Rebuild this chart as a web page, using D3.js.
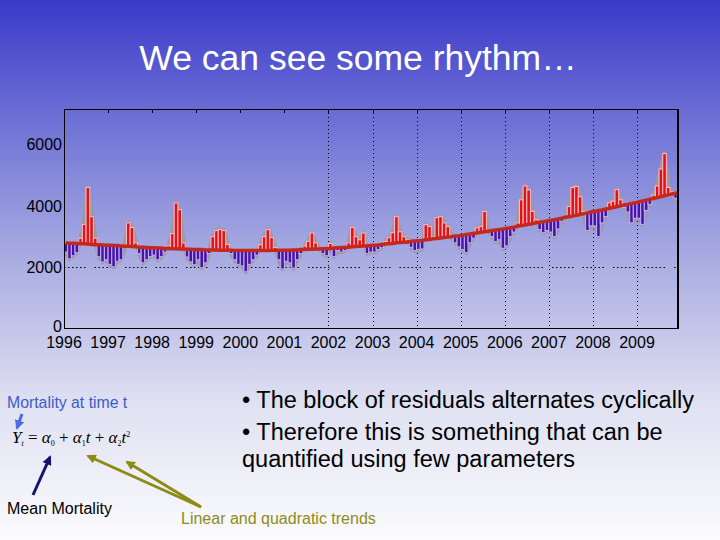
<!DOCTYPE html>
<html>
<head>
<meta charset="utf-8">
<style>
  body { margin: 0; }
  svg { display: block; font-family: Arial, "Liberation Sans", sans-serif; }
</style>
</head>
<body>
<div class="slide"></div>

<script src="https://d3js.org/d3.v7.min.js"></script>

<script>
// ---- data ----
const startYear = 1996;
const yearLabels = [1996, 1997, 1998, 1999, 2000, 2001, 2002, 2003, 2004, 2005, 2006, 2007, 2008, 2009];
const gridYears = [2002, 2003, 2004, 2005, 2006, 2007, 2008, 2009];
const yTicks = [0, 2000, 4000, 6000];

// monthly mortality, Jan..Dec per row
const mortality = [
  2500, 2280, 2380, 2480, 2950, 3400, 4600, 3650, 2950, 2350, 2180, 2250, // 1996
  2100, 2020, 2200, 2250, 2650, 3450, 3300, 2800, 2450, 2150, 2250, 2350, // 1997
  2400, 2250, 2350, 2500, 2700, 3100, 4100, 3880, 2800, 2340, 2180, 2090, // 1998
  2250, 1990, 2150, 2450, 3000, 3200, 3230, 3200, 2750, 2450, 2250, 2100, // 1999
  2050, 1860, 2100, 2250, 2400, 2740, 3000, 3230, 2970, 2650, 2250, 1950, // 2000
  2200, 2150, 1980, 2250, 2450, 2700, 2850, 3120, 2800, 2620, 2450, 2380, // 2001
  2780, 2350, 2550, 2500, 2550, 2800, 3300, 3000, 2900, 3120, 2450, 2500, // 2002
  2500, 2580, 2640, 2840, 2970, 3130, 3650, 3160, 3000, 2900, 2650, 2550, // 2003
  2580, 2600, 3390, 3330, 2980, 3620, 3650, 3450, 3330, 2970, 2800, 2670, // 2004
  2580, 2480, 2800, 2950, 3290, 3330, 3820, 3200, 3000, 2840, 2900, 2620, // 2005
  2700, 3000, 3150, 3450, 4200, 4650, 4520, 3820, 3550, 3230, 3130, 3200, // 2006
  3150, 3000, 3250, 3500, 3650, 3980, 4600, 4630, 4300, 3820, 3200, 3350, // 2007
  3350, 3000, 3450, 3650, 4100, 4150, 4530, 4200, 3950, 3800, 3450, 3600, // 2008
  3600, 3400, 3850, 4050, 4350, 4650, 5200, 5700, 4600, 4450, 4250, 4100  // 2009
];

// fitted (quadratic) trend as drawn, Jan..Dec per row
const trend = [
  2800, 2790, 2790, 2780, 2770, 2770, 2760, 2750, 2740, 2740, 2730, 2720, // 1996
  2720, 2710, 2710, 2700, 2690, 2690, 2680, 2670, 2660, 2660, 2650, 2640, // 1997
  2640, 2630, 2630, 2620, 2620, 2610, 2610, 2600, 2600, 2590, 2590, 2580, // 1998
  2580, 2580, 2570, 2570, 2570, 2570, 2560, 2560, 2560, 2560, 2550, 2550, // 1999
  2550, 2550, 2550, 2550, 2550, 2550, 2550, 2550, 2560, 2560, 2560, 2560, // 2000
  2560, 2560, 2570, 2570, 2580, 2580, 2590, 2590, 2600, 2600, 2610, 2610, // 2001
  2620, 2630, 2640, 2650, 2650, 2660, 2670, 2680, 2690, 2700, 2700, 2710, // 2002
  2720, 2730, 2750, 2760, 2770, 2780, 2800, 2810, 2820, 2830, 2850, 2860, // 2003
  2870, 2880, 2900, 2910, 2930, 2940, 2960, 2970, 2990, 3000, 3020, 3030, // 2004
  3050, 3070, 3090, 3110, 3120, 3140, 3160, 3180, 3200, 3220, 3230, 3250, // 2005
  3270, 3290, 3310, 3340, 3360, 3380, 3400, 3420, 3450, 3470, 3490, 3510, // 2006
  3530, 3550, 3580, 3600, 3630, 3650, 3670, 3700, 3720, 3750, 3770, 3800, // 2007
  3820, 3850, 3870, 3900, 3920, 3950, 3970, 4000, 4030, 4050, 4080, 4100, // 2008
  4130, 4160, 4190, 4220, 4240, 4270, 4300, 4330, 4360, 4390, 4410, 4440  // 2009
];

const bullets = [
  "\u2022 The block of residuals alternates cyclically",
  "\u2022 Therefore this is something that can be",
  "quantified using few parameters"
];

// ---- layout ----
const W = 720, H = 540;
const plot = { left: 64, right: 678, top: 109, bottom: 329 };

const svg = d3.select(".slide").append("svg")
    .attr("width", W).attr("height", H);

const defs = svg.append("defs");
const bg = defs.append("linearGradient").attr("id", "bg")
    .attr("x1", 0).attr("y1", 0).attr("x2", 0).attr("y2", 1);
bg.append("stop").attr("offset", "0%").attr("stop-color", "#3a3bca");
bg.append("stop").attr("offset", "45%").attr("stop-color", "#a3a6e0");
bg.append("stop").attr("offset", "75%").attr("stop-color", "#e0e1f2");
bg.append("stop").attr("offset", "100%").attr("stop-color", "#fbfbfd");

defs.append("clipPath").attr("id", "plotclip").append("rect")
    .attr("x", plot.left).attr("y", plot.top)
    .attr("width", plot.right - plot.left).attr("height", plot.bottom - plot.top);

function marker(id, color) {
  defs.append("marker").attr("id", id)
      .attr("viewBox", "0 0 10 10").attr("refX", 8).attr("refY", 5)
      .attr("markerWidth", 3.2).attr("markerHeight", 3.2)
      .attr("orient", "auto")
    .append("path").attr("d", "M0,0L10,5L0,10Z").attr("fill", color);
}
marker("arBlue", "#4a6ce0");
marker("arNavy", "#14146e");
marker("arOlive", "#8c8c14");

svg.append("rect").attr("width", W).attr("height", H).attr("fill", "url(#bg)");

// title
svg.append("text")
    .attr("x", 358).attr("y", 70)
    .attr("text-anchor", "middle")
    .attr("fill", "#ffffff")
    .attr("font-size", 35.5)
    .text("We can see some rhythm\u2026");

// ---- chart ----
const x = d3.scaleLinear().domain([1996, 2009.93]).range([plot.left, plot.right]);
const y = d3.scaleLinear().domain([0, 7150]).range([plot.bottom, plot.top]);

const months = mortality.map((v, i) => ({
  t: startYear + (i + 0.5) / 12,
  value: v,
  trend: trend[i]
}));
const step = x(startYear + 1 / 12) - x(startYear);

// grid
const grid = svg.append("g").attr("stroke", "#000").attr("stroke-width", 1);
grid.selectAll("line.v").data(gridYears).join("line")
    .attr("class", "v")
    .attr("x1", d => Math.round(x(d)) + 0.5).attr("x2", d => Math.round(x(d)) + 0.5)
    .attr("y1", plot.top).attr("y2", plot.bottom)
    .attr("stroke-dasharray", "1,3");
grid.append("line")
    .attr("x1", plot.left).attr("x2", plot.right)
    .attr("y1", Math.round(y(2000)) + 0.5).attr("y2", Math.round(y(2000)) + 0.5)
    .attr("stroke-dasharray", "1.5,2.5,1.5,2.5,1.5,2.5,1.5,2.5,1.5,2.5,1.5,9");

const g = svg.append("g").attr("clip-path", "url(#plotclip)");

// observed series (grey)
g.append("path")
    .datum(months)
    .attr("fill", "none")
    .attr("stroke", "#9b9b9b")
    .attr("stroke-width", 4.5)
    .attr("stroke-linejoin", "round")
    .attr("d", d3.line().x(d => x(d.t)).y(d => y(d.value)));

// residual bars
g.selectAll("rect.res").data(months).join("rect")
    .attr("class", "res")
    .attr("x", d => x(d.t) - step / 2)
    .attr("width", step)
    .attr("y", d => y(Math.max(d.value, d.trend)))
    .attr("height", d => Math.abs(y(d.value) - y(d.trend)))
    .attr("fill", d => d.value >= d.trend ? "#e01414" : "#4a12a6")
    .attr("stroke", d => d.value >= d.trend ? "#ffb3c4" : "#b9aef0")
    .attr("stroke-width", 1.1);

// trend
g.append("path")
    .datum(months)
    .attr("fill", "none")
    .attr("stroke", "#c4281c")
    .attr("stroke-width", 3.5)
    .attr("d", d3.line().x(d => x(d.t)).y(d => y(d.trend)));

// frame
svg.append("rect")
    .attr("x", plot.left + 0.5).attr("y", plot.top + 0.5)
    .attr("width", plot.right - plot.left - 1).attr("height", plot.bottom - plot.top - 1)
    .attr("fill", "none").attr("stroke", "#000").attr("stroke-width", 1);
svg.append("line")
    .attr("x1", plot.right).attr("x2", plot.right)
    .attr("y1", plot.top).attr("y2", plot.bottom)
    .attr("stroke", "#000").attr("stroke-width", 2);

// year ticks on top edge
svg.append("g").selectAll("line").data(yearLabels.slice(1)).join("line")
    .attr("x1", d => Math.round(x(d)) + 0.5).attr("x2", d => Math.round(x(d)) + 0.5)
    .attr("y1", plot.top).attr("y2", plot.top + 4)
    .attr("stroke", "#000");

// axis labels
svg.append("g").selectAll("text").data(yTicks).join("text")
    .attr("x", plot.left - 2).attr("y", d => d === 0 ? y(d) + 3 : y(d) + 6)
    .attr("text-anchor", "end")
    .attr("font-size", 16)
    .attr("fill", "#000")
    .text(d => d);

svg.append("g").selectAll("text").data(yearLabels).join("text")
    .attr("x", d => x(d)).attr("y", 348)
    .attr("text-anchor", "middle")
    .attr("font-size", 16)
    .attr("fill", "#000")
    .text(d => d);

// ---- notes below ----
svg.append("text")
    .attr("x", 7).attr("y", 408)
    .attr("font-size", 15.8)
    .attr("fill", "#3c5ccc")
    .text("Mortality at time t");

svg.append("line")
    .attr("x1", 22).attr("y1", 414).attr("x2", 17).attr("y2", 428)
    .attr("stroke", "#4a6ce0").attr("stroke-width", 3)
    .attr("marker-end", "url(#arBlue)");

const eq = svg.append("text")
    .attr("x", 12).attr("y", 443)
    .attr("font-family", "'Liberation Serif', 'Times New Roman', serif")
    .attr("font-size", 17)
    .attr("fill", "#000");
eq.append("tspan").attr("font-style", "italic").text("Y");
eq.append("tspan").attr("font-style", "italic").attr("font-size", 8).attr("dy", 3).text("t");
eq.append("tspan").attr("dy", -3).text(" = ");
eq.append("tspan").attr("font-style", "italic").text("\u03b1");
eq.append("tspan").attr("font-size", 8).attr("dy", 3).text("0");
eq.append("tspan").attr("dy", -3).text(" + ");
eq.append("tspan").attr("font-style", "italic").text("\u03b1");
eq.append("tspan").attr("font-size", 8).attr("dy", 3).text("1");
eq.append("tspan").attr("font-style", "italic").attr("dy", -3).text("t");
eq.append("tspan").text(" + ");
eq.append("tspan").attr("font-style", "italic").text("\u03b1");
eq.append("tspan").attr("font-size", 8).attr("dy", 3).text("2");
eq.append("tspan").attr("font-style", "italic").attr("dy", -3).text("t");
eq.append("tspan").attr("font-size", 8).attr("dy", -6).text("2");

svg.append("line")
    .attr("x1", 33).attr("y1", 495).attr("x2", 50).attr("y2", 457)
    .attr("stroke", "#14146e").attr("stroke-width", 3)
    .attr("marker-end", "url(#arNavy)");

svg.append("text")
    .attr("x", 7).attr("y", 514)
    .attr("font-size", 16)
    .attr("fill", "#000")
    .text("Mean Mortality");

svg.append("line")
    .attr("x1", 201).attr("y1", 507).attr("x2", 88).attr("y2", 456)
    .attr("stroke", "#8c8c14").attr("stroke-width", 3)
    .attr("marker-end", "url(#arOlive)");
svg.append("line")
    .attr("x1", 201).attr("y1", 507).attr("x2", 127).attr("y2", 462)
    .attr("stroke", "#8c8c14").attr("stroke-width", 3)
    .attr("marker-end", "url(#arOlive)");

svg.append("text")
    .attr("x", 181).attr("y", 524)
    .attr("font-size", 16)
    .attr("fill", "#8c8c1a")
    .text("Linear and quadratic trends");

svg.append("g").selectAll("text").data(bullets).join("text")
    .attr("x", 242).attr("y", (d, i) => [408, 440, 467][i])
    .attr("font-size", 23.5)
    .attr("fill", "#000")
    .text(d => d);
</script>
</body>
</html>
